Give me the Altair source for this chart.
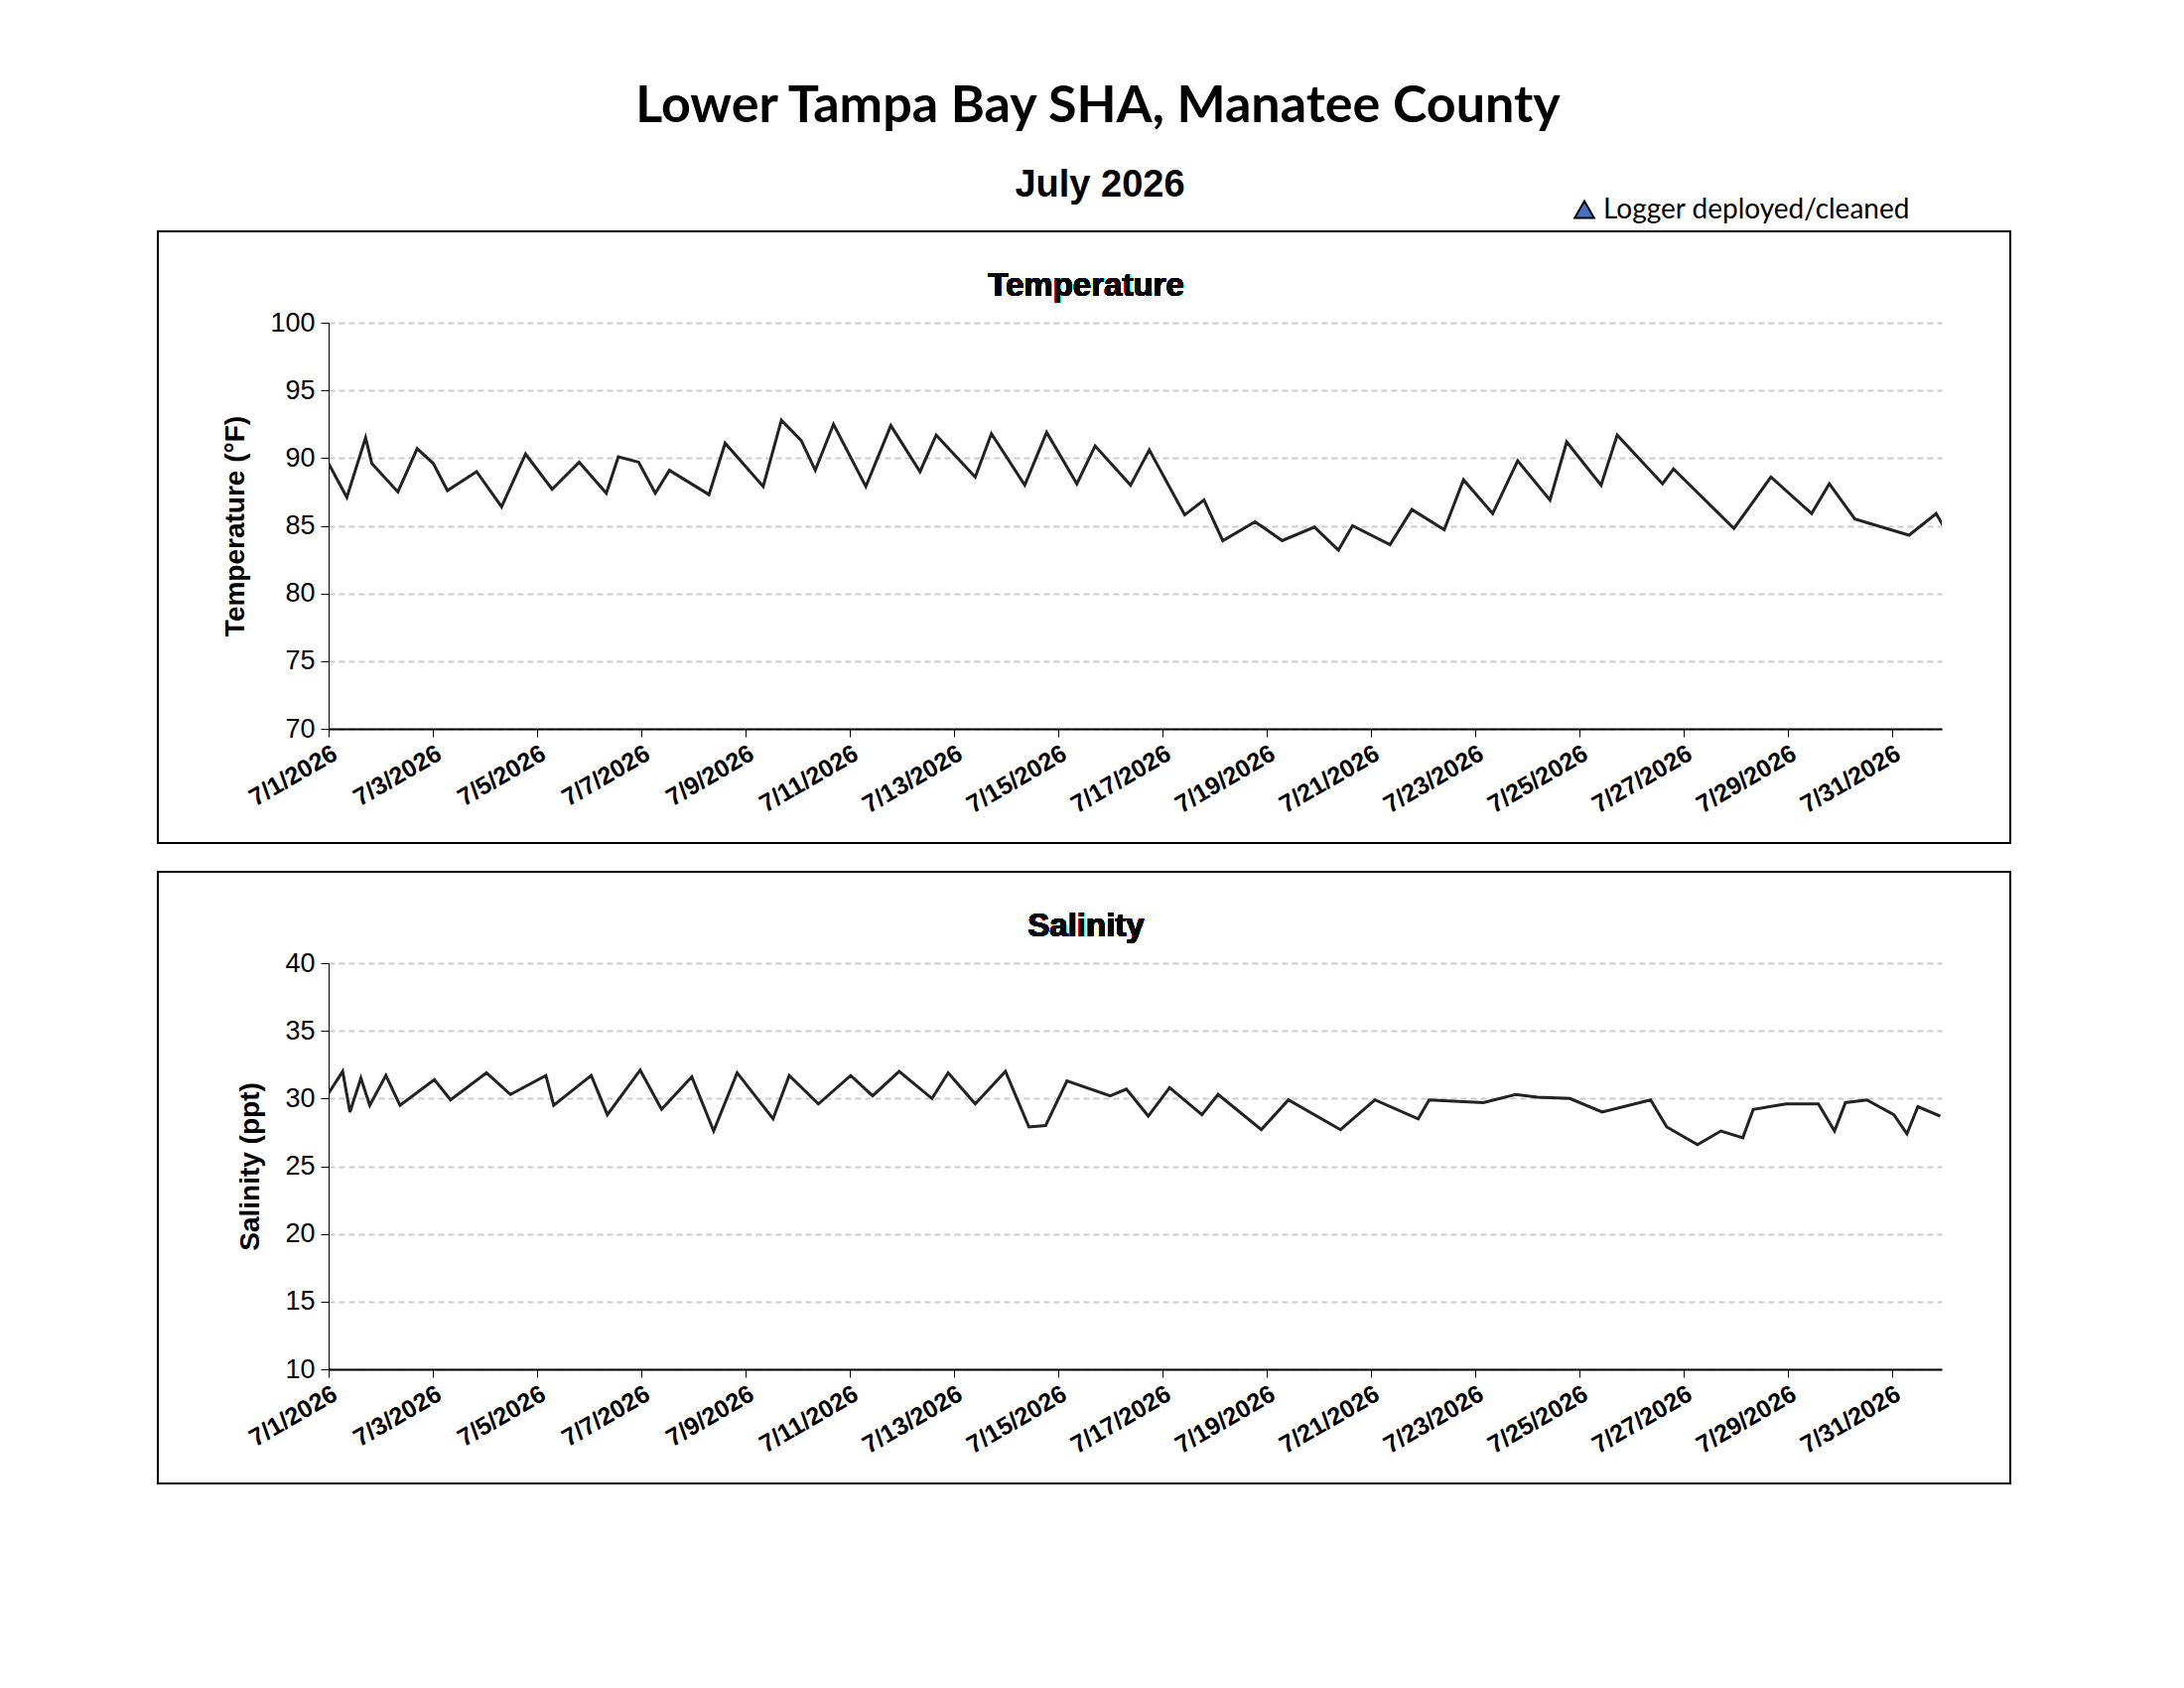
import pandas as pd
import altair as alt

# temperature readings (day offset from 7/1 00:00, degF)
temp_day = [0, .35, .71, .83, 1.33, 1.70, 2.01, 2.28, 2.84, 3.32, 3.78, 4.29, 4.81, 5.33, 5.56, 5.95,
            6.27, 6.54, 7.30, 7.61, 8.34, 8.69, 9.07, 9.34, 9.69, 10.31, 10.79, 11.35, 11.66, 12.41,
            12.72, 13.36, 13.78, 14.36, 14.71, 15.39, 15.75, 16.43, 16.80, 17.16, 17.78, 18.30, 18.92,
            19.38, 19.65, 20.37, 20.79, 21.41, 21.78, 22.34, 22.82, 23.44, 23.76, 24.42, 24.73, 25.60,
            25.81, 26.60, 26.97, 27.68, 28.46, 28.80, 29.29, 30.33, 30.85, 31.0]
temp_val = [89.6, 87.1, 91.5, 89.6, 87.5, 90.7, 89.6, 87.6, 89.0, 86.4, 90.3, 87.7, 89.7, 87.4, 90.1, 89.7,
            87.4, 89.1, 87.3, 91.1, 87.9, 92.8, 91.3, 89.1, 92.5, 87.9, 92.4, 89.0, 91.7, 88.6,
            91.8, 88.0, 91.9, 88.1, 90.9, 88.0, 90.6, 85.8, 86.9, 83.9, 85.3, 83.9, 84.9,
            83.2, 85.0, 83.6, 86.2, 84.7, 88.4, 85.9, 89.8, 86.9, 91.2, 88.0, 91.7, 88.1,
            89.2, 86.2, 84.8, 88.6, 85.9, 88.1, 85.5, 84.3, 85.9, 84.9]

# salinity readings (day offset, ppt)
sal_day = [0, .27, .41, .62, .79, 1.10, 1.37, 2.03, 2.34, 3.03, 3.49, 4.17, 4.32, 5.04, 5.35, 5.98,
           6.39, 6.97, 7.39, 7.84, 8.53, 8.84, 9.40, 10.02, 10.44, 10.95, 11.58, 11.89, 12.41, 12.99,
           13.44, 13.76, 14.17, 15.0, 15.31, 15.73, 16.14, 16.76, 17.07, 17.90, 18.42, 19.42, 20.08,
           20.91, 21.12, 22.16, 22.78, 23.20, 23.82, 24.44, 25.37, 25.68, 26.27, 26.72, 27.14, 27.34,
           27.97, 28.59, 28.90, 29.11, 29.52, 30.04, 30.29, 30.50, 30.93]
sal_val = [30.4, 32.0, 29.0, 31.5, 29.5, 31.7, 29.5, 31.4, 29.9, 31.9, 30.3, 31.7, 29.5, 31.7, 28.8, 32.1,
           29.2, 31.6, 27.6, 31.9, 28.5, 31.7, 29.6, 31.7, 30.2, 32.0, 30.0, 31.9, 29.6, 32.0,
           27.9, 28.0, 31.3, 30.2, 30.7, 28.7, 30.8, 28.8, 30.3, 27.7, 29.9, 27.7, 29.9,
           28.5, 29.9, 29.7, 30.3, 30.1, 30.0, 29.0, 29.9, 27.9, 26.6, 27.6, 27.1, 29.2,
           29.6, 29.6, 27.6, 29.7, 29.9, 28.8, 27.4, 29.4, 28.7]

tick_dates = pd.date_range("2026-07-01", "2026-07-31", freq="2D")
start = pd.Timestamp("2026-07-01")
temp_df = pd.DataFrame({"t": start + pd.to_timedelta(temp_day, unit="D"), "v": temp_val})
sal_df = pd.DataFrame({"t": start + pd.to_timedelta(sal_day, unit="D"), "v": sal_val})

W = 1625
H = 409
domain = [alt.DateTime(year=2026, month=7, date=1), alt.DateTime(year=2026, month=7, date=31, hours=23)]
tick_vals = [alt.DateTime(year=2026, month=7, date=int(d.day)) for d in tick_dates]


def panel(df, lo, hi, ytitle, ptitle, extra=None):
    x = alt.X("t:T", title=None, scale=alt.Scale(domain=domain),
              axis=alt.Axis(values=tick_vals, format="%-m/%-d/%Y", labelAngle=330, labelAlign="right",
                            labelBaseline="top", labelFontSize=25, labelFontWeight="bold",
                            labelFont="Liberation Sans", labelColor="black", grid=False,
                            labelOverlap=False, labelBound=False,
                            domainColor="black", domainWidth=2, tickColor="black", tickSize=8,
                            labelPadding=4))
    y = alt.Y("v:Q", title=ytitle, scale=alt.Scale(domain=[lo, hi]),
              axis=alt.Axis(values=list(range(lo, hi + 1, 5)), labelFontSize=27, labelFont="Liberation Sans",
                            labelColor="black", titleFontSize=28, titleFont="Liberation Sans",
                            titleColor="black", titleFontWeight="bold", titlePadding=20,
                            gridDash=[6, 4], gridColor="#cccccc", gridWidth=2, domainColor="black",
                            tickColor="black", tickSize=8, labelPadding=6))
    line = alt.Chart(df).mark_line(color="#222222", strokeWidth=3, clip=True).encode(x=x, y=y)
    frame = alt.Chart(df).mark_rect(fill=None, stroke="black", strokeWidth=1.5).encode(
        x=alt.value(-172), x2=alt.value(1694), y=alt.value(-92), y2=alt.value(524))
    ttl = alt.Chart(df).mark_text(fontSize=33, fontWeight="bold", font="Liberation Sans",
                                  color="black", align="center").encode(
        x=alt.value(763), y=alt.value(-37), text=alt.value(ptitle))
    layers = [frame, line, ttl] + (extra or [])
    return alt.layer(*layers).properties(width=W, height=H)


d0 = temp_df.iloc[:1]
extras = [
    alt.Chart(d0).mark_text(fontSize=52, fontWeight="bold", font="Lato", color="black").encode(
        x=alt.value(775), y=alt.value(-218), text=alt.value("Lower Tampa Bay SHA, Manatee County")),
    alt.Chart(d0).mark_text(fontSize=38, fontWeight="bold", font="Liberation Sans", color="black").encode(
        x=alt.value(777), y=alt.value(-138), text=alt.value("July 2026")),
    alt.Chart(d0).mark_point(shape="triangle-up", size=380, filled=True, fill="#4472c4",
                             stroke="black", strokeWidth=2, opacity=1).encode(
        x=alt.value(1265), y=alt.value(-114)),
    alt.Chart(d0).mark_text(fontSize=28, font="Lato", color="black", align="left").encode(
        x=alt.value(1284), y=alt.value(-113), text=alt.value("Logger deployed/cleaned")),
]

top = panel(temp_df, 70, 100, "Temperature (°F)", "Temperature", extras)
bottom = panel(sal_df, 10, 40, "Salinity (ppt)", "Salinity")

chart = alt.vconcat(top, bottom, spacing=27).configure_view(stroke=None).properties(
    background="white", padding={"left": 150, "top": 73, "right": 8, "bottom": 8})

chart.save("out.html", embed_options={"renderer": "svg", "actions": False})
